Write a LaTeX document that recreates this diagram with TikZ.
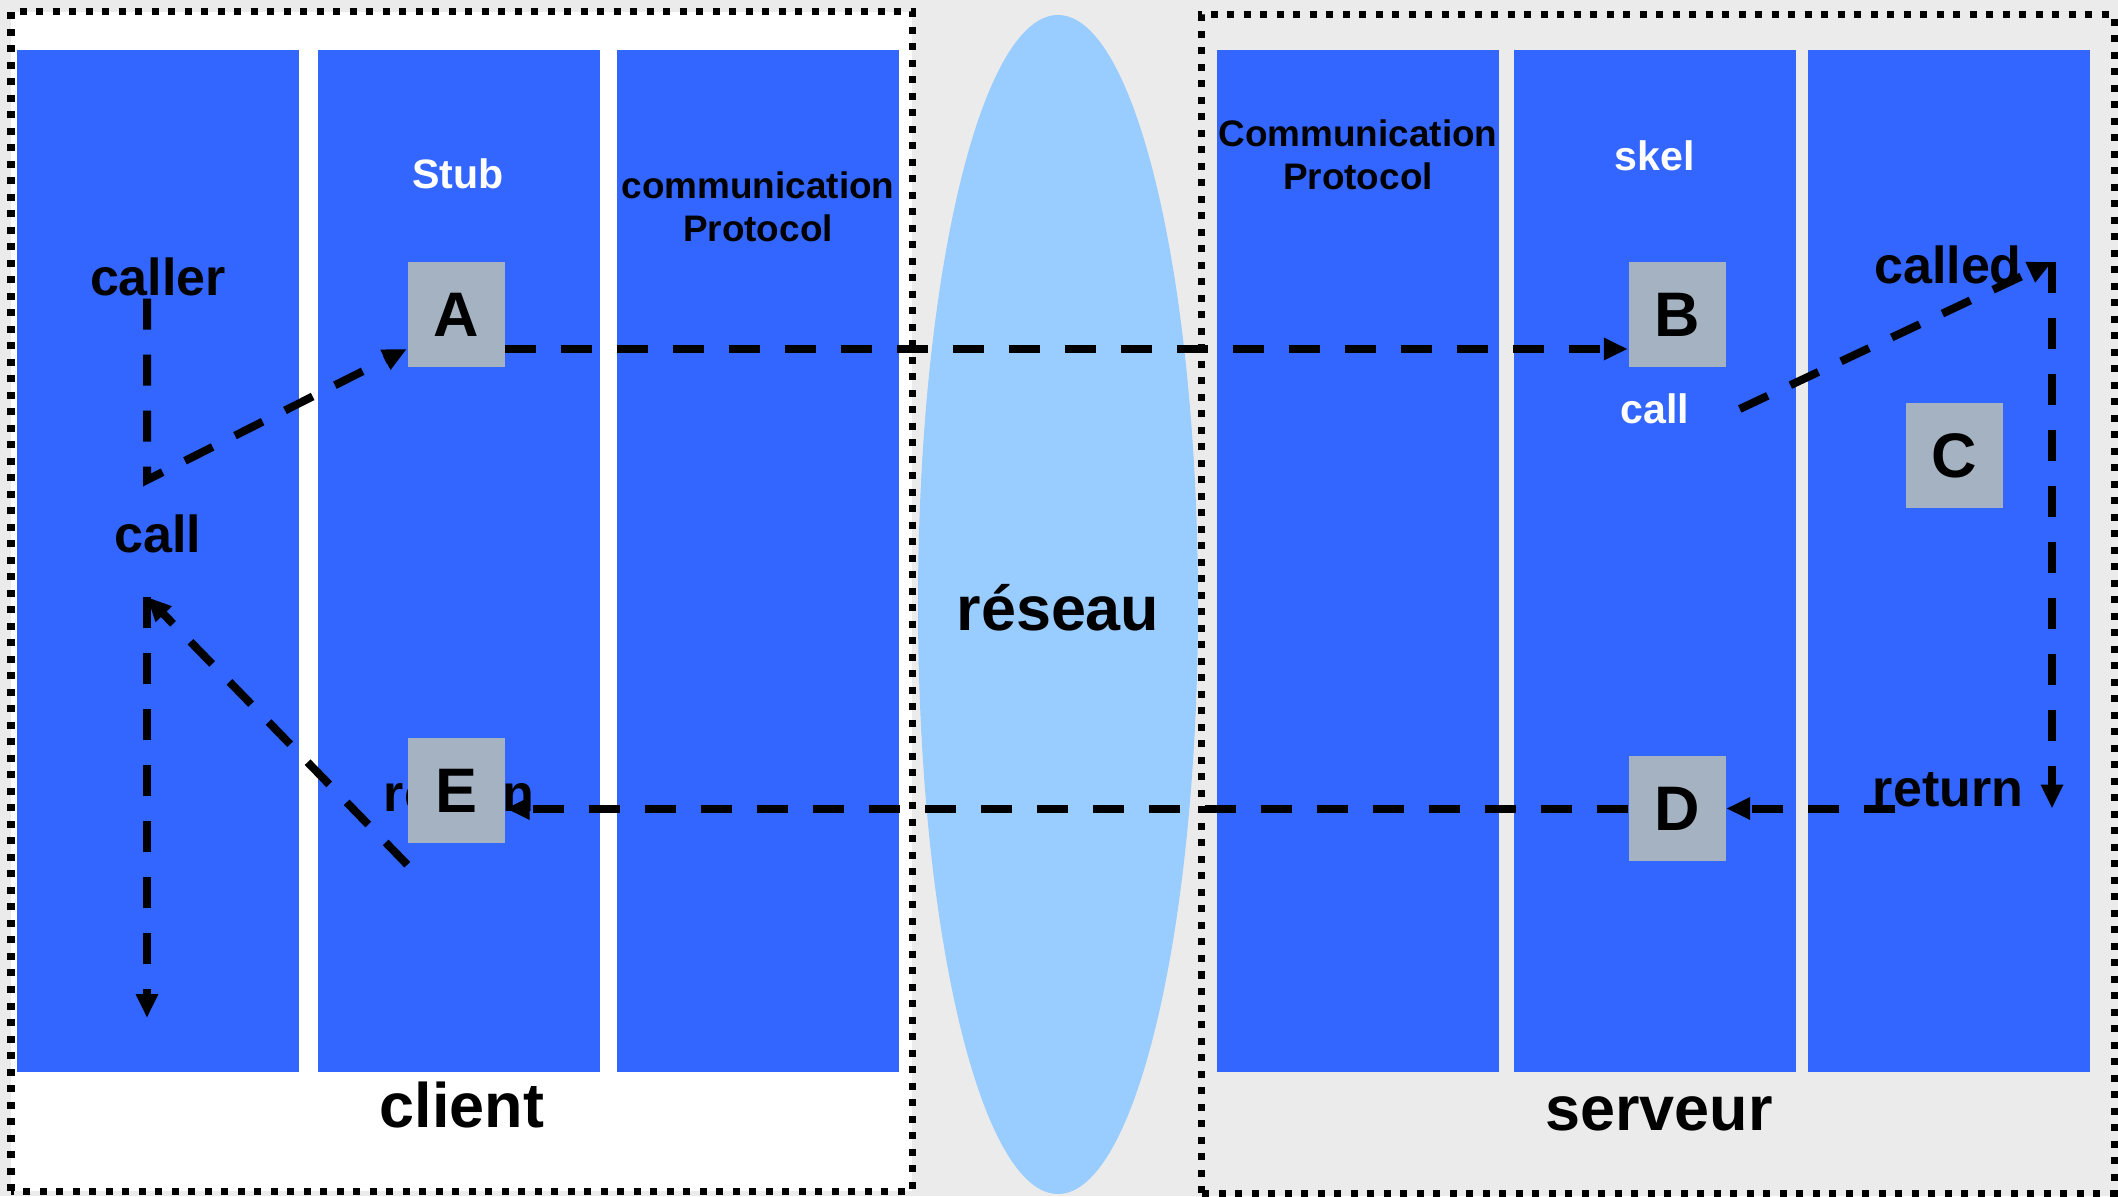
\documentclass[tikz,border=0pt]{standalone}
\usepackage{fontspec}
\setmainfont{Liberation Sans}
\usetikzlibrary{arrows.meta}
\definecolor{colblue}{HTML}{3366FF}
\definecolor{boxgrey}{HTML}{A4B2C1}
\definecolor{netblue}{HTML}{99CCFF}
\definecolor{backgrey}{HTML}{EBEBEB}

\begin{document}
\begin{tikzpicture}[
    big/.style={font=\fontsize{17.9}{20}\selectfont\bfseries},
    lbl/.style={font=\fontsize{14.8}{17}\selectfont\bfseries},
    lay/.style={font=\fontsize{11.7}{14}\selectfont\bfseries, text=white},
    proto/.style={font=\fontsize{10.5}{12.2}\selectfont\bfseries, align=center},
    gbox/.style={fill=boxgrey, minimum width=0.97cm, minimum height=1.05cm, inner sep=0pt, big},
    flow/.style={line width=0.08cm, dash pattern=on 0.31cm off 0.25cm, -{Triangle[length=0.24cm,width=0.21cm]}},
    zone/.style={line width=0.07cm, dash pattern=on 0.07cm off 0.095cm}
  ]
  % Background and client area
  \fill[backgrey] (0,0) rectangle (21.18,11.96);
  \fill[white] (0.11,0.05) rectangle (9.12,11.845);

  % The six layers
  \foreach \x in {0.17, 3.18, 6.17, 12.17, 15.14, 18.08}
    \fill[colblue] (\x,1.24) rectangle ++(2.82,10.22);

  % Network
  \fill[netblue] (10.58,5.915) ellipse (1.40 and 5.895);
  \node[big] (net) at (10.58,5.88) {réseau};

  % Machine borders
  \draw[zone] (0.11,0.05) rectangle (9.12,11.845);
  \draw[zone] (12.01,0.03) rectangle (21.14,11.815);
  \node[big] (client) at (4.62,0.91) {client};
  \node[big] (server) at (16.59,0.82) {serveur};

  % Layer titles
  \node[lay] (stub) at (4.58,10.22) {Stub};
  \node[proto] (cproto) at (7.58,9.895) {communication\\Protocol};
  \node[proto] (sproto) at (13.58,10.415) {Communication\\Protocol};
  \node[lay] (skel) at (16.55,10.40) {skel};

  % Call labels
  \node[lbl] (caller) at (1.58,9.19) {caller};
  \node[lbl] (call) at (1.58,6.62) {call};
  \node[lbl] (called) at (19.48,9.31) {called};
  \node[lay] (call2) at (16.55,7.87) {call};
  \node[lbl] (ret) at (19.48,4.06) {return};
  \node[lbl] (ret2) at (4.59,4.01) {return};

  % Steps
  \node[gbox] (A) at (4.56,8.815) {A};
  \node[gbox] (B) at (16.77,8.815) {B};
  \node[gbox] (C) at (19.54,7.405) {C};
  \node[gbox] (D) at (16.77,3.875) {D};
  \node[gbox] (E) at (4.565,4.055) {E};

  % Request path
  \coordinate (c1) at (1.47,7.16);
  \coordinate (top) at (20.52,9.34);
  \draw[flow] ([yshift=0.1cm]caller.south -| c1) -- (c1) -- ([yshift=-0.345cm]A.west);
  \draw[flow] ([yshift=-0.345cm]A.east) -- ([yshift=-0.345cm]B.west);
  \draw[flow] ([xshift=0.38cm]call2.east) -- (top);
  \draw[flow] (top) -- (top |- D.east);

  % Reply path
  \coordinate (r0) at (18.95,3.875);
  \coordinate (c2) at (1.47,5.99);
  \coordinate (c3) at (1.47,1.78);
  \draw[flow] (r0) -- (D.east);
  \draw[flow] (D.west) -- (D.west -| E.east);
  \draw[flow] ([yshift=-0.21cm]E.south west) -- (c2);
  \draw[flow] (c2) -- (c3);
\end{tikzpicture}
\end{document}
